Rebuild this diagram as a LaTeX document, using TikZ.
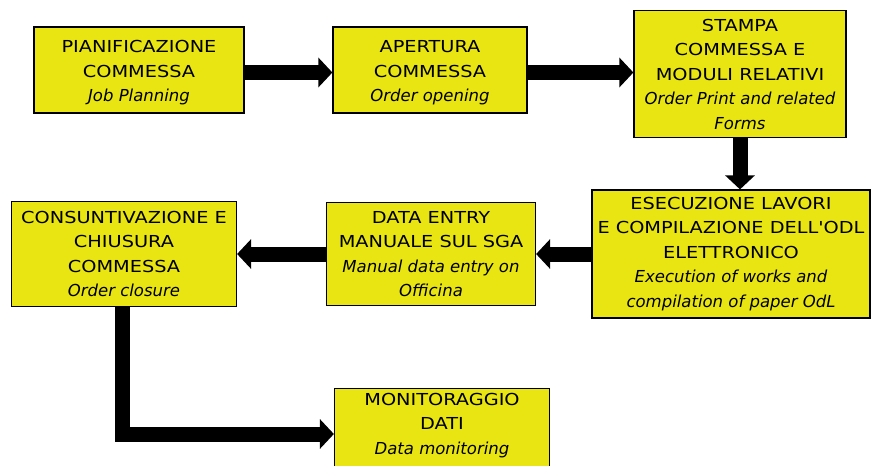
\documentclass[tikz,border=0pt]{standalone}
\usepackage{fontspec}
\setmainfont{DejaVu Sans}
\newfontfamily\capsfont[FakeStretch=1.17]{DejaVu Sans}
\newcommand\en[1]{{\normalfont\itshape #1}}
\usetikzlibrary{arrows.meta}
\definecolor{boxyellow}{RGB}{233,229,18}
\tikzset{
  boxtext/.style={align=center, font=\capsfont\fontsize{16.5}{24.5}\selectfont},
  box/.style={draw=black, line width=1.2pt, fill=boxyellow, inner sep=0pt, boxtext},
  flow/.style={line width=15pt, -{Triangle[width=29pt,length=14pt]}},
}
\begin{document}
\begin{tikzpicture}[x=1pt,y=-1pt]
\useasboundingbox (0,0) rectangle (876,466);
\clip (0,0) rectangle (876,466);
\node[box, minimum width=210pt, minimum height=86pt] (b1) at (139,70) {};
\node[boxtext, inner sep=0pt] (t1) at (139,73)
  {PIANIFICAZIONE\\COMMESSA\\\en{Job Planning}};
\node[box, minimum width=194pt, minimum height=86pt] (b2) at (430,70) {};
\node[boxtext, inner sep=0pt] (t2) at (430,73)
  {APERTURA\\COMMESSA\\\en{Order opening}};
\node[box, minimum width=212pt, minimum height=127pt] (b3) at (740,74)
  {STAMPA\\COMMESSA E\\MODULI RELATIVI\\\en{Order Print and related}\\\en{Forms}};
\node[box, minimum width=278pt, minimum height=128pt] (b4) at (731,254)
  {ESECUZIONE LAVORI\\E COMPILAZIONE DELL'ODL\\ELETTRONICO\\\en{Execution of works and}\\\en{compilation of paper OdL}};
\node[box, minimum width=209pt, minimum height=103pt] (b5) at (431,254)
  {DATA ENTRY\\MANUALE SUL SGA\\\en{Manual data entry on}\\\en{Officina}};
\node[box, minimum width=225pt, minimum height=105pt] (b6) at (124,254)
  {CONSUNTIVAZIONE E\\CHIUSURA\\COMMESSA\\\en{Order closure}};
\node[box, minimum width=215pt, minimum height=96pt, anchor=north] (b7) at (442,388) {};
\node[boxtext, anchor=north, inner sep=0pt] (t7) at (442,393)
  {MONITORAGGIO\\DATI\\\en{Data monitoring}};
\draw[flow] (b1.east |- 0,72.5) -- (b2.west |- 0,72.5);
\draw[flow] (b2.east |- 0,72.5) -- (b3.west |- 0,72.5);
\draw[flow] (b3.south) -- (b3.south |- b4.north);
\draw[flow] (b4.west) -- (b5.east);
\draw[flow] (b5.west) -- (b6.east);
\draw[flow] (b6.south -| 122,0) |- (b7.west |- 0,434);
\end{tikzpicture}
\end{document}
